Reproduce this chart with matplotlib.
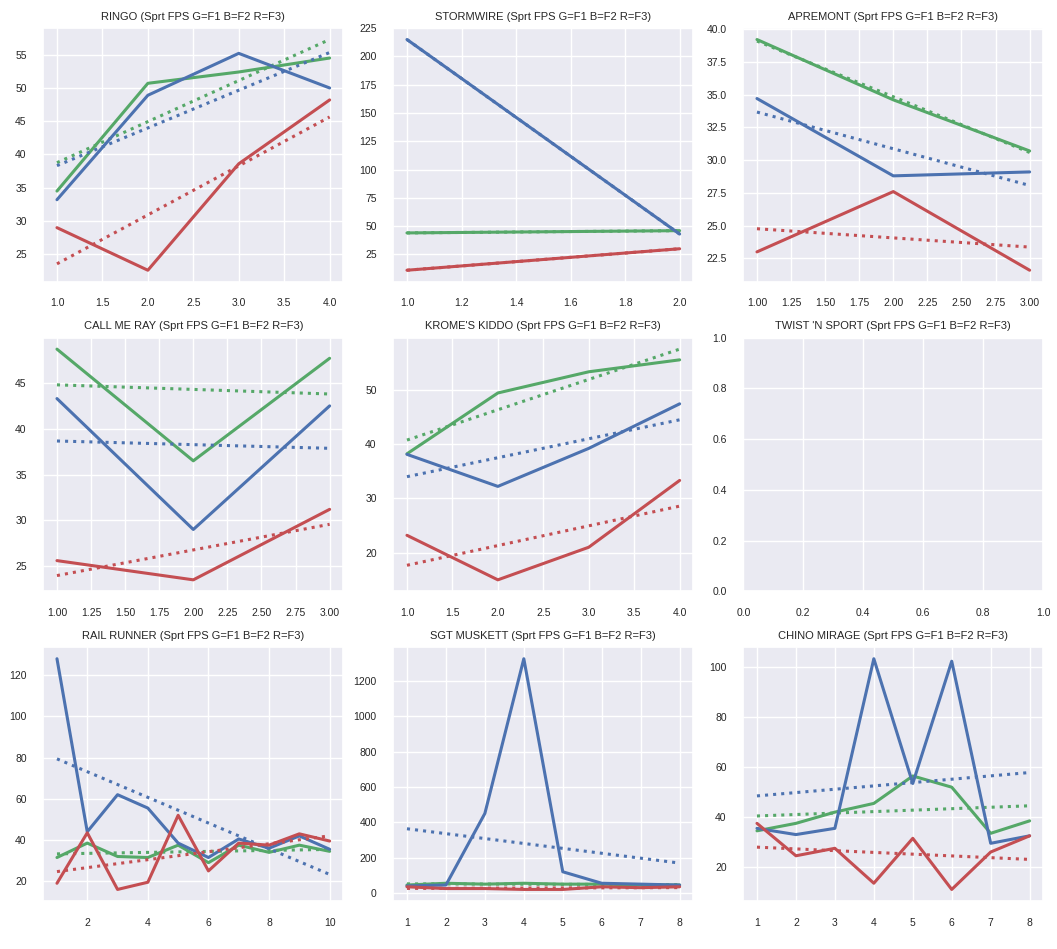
import numpy as np
import matplotlib
matplotlib.use("Agg")
import matplotlib.pyplot as plt
import seaborn as sns

sns.set_theme(style="darkgrid")
plt.rcParams['font.family'] = ['Liberation Sans', 'DejaVu Sans']

SUFFIX = " (Sprt FPS G=F1 B=F2 R=F3)"

# one entry per track: (name, green F1, blue F2, red F3)
ringo_g = [34.5, 50.7, 52.4, 54.5]
ringo_b = [33.2, 48.9, 55.2, 50.0]
ringo_r = [29.0, 22.6, 38.6, 48.2]

stormwire_g = [44.0, 46.0]
stormwire_b = [215.0, 43.0]
stormwire_r = [11.0, 30.0]

apremont_g = [39.2, 34.6, 30.7]
apremont_b = [34.7, 28.8, 29.1]
apremont_r = [23.0, 27.6, 21.6]

callmeray_g = [48.7, 36.5, 47.7]
callmeray_b = [43.3, 29.0, 42.5]
callmeray_r = [25.6, 23.5, 31.2]

krome_g = [38.2, 49.4, 53.3, 55.5]
krome_b = [38.1, 32.2, 39.2, 47.4]
krome_r = [23.2, 15.0, 21.0, 33.3]

railrunner_g = [31.5, 38.5, 32.0, 31.5, 37.5, 29.0, 37.5, 34.0, 37.5, 34.5]
railrunner_b = [128.0, 44.0, 62.0, 55.5, 38.5, 31.5, 40.5, 36.0, 42.0, 35.5]
railrunner_r = [19.0, 43.5, 16.0, 19.5, 52.0, 25.0, 38.5, 37.5, 43.0, 39.5]

muskett_g = [45, 55, 50, 55, 50, 50, 45, 45]
muskett_b = [40, 45, 450, 1325, 120, 55, 50, 45]
muskett_r = [35, 25, 25, 20, 20, 35, 30, 35]

chino_g = [34.5, 37.5, 42.0, 45.5, 56.5, 52.0, 33.5, 38.5]
chino_b = [35.5, 33.0, 35.5, 103.5, 53.5, 102.5, 29.5, 32.5]
chino_r = [37.5, 24.5, 27.5, 13.5, 31.5, 11.0, 26.0, 32.5]

tracks = [
    ("RINGO", ringo_g, ringo_b, ringo_r),
    ("STORMWIRE", stormwire_g, stormwire_b, stormwire_r),
    ("APREMONT", apremont_g, apremont_b, apremont_r),
    ("CALL ME RAY", callmeray_g, callmeray_b, callmeray_r),
    ("KROME'S KIDDO", krome_g, krome_b, krome_r),
    ("TWIST 'N SPORT", [], [], []),
    ("RAIL RUNNER", railrunner_g, railrunner_b, railrunner_r),
    ("SGT MUSKETT", muskett_g, muskett_b, muskett_r),
    ("CHINO MIRAGE", chino_g, chino_b, chino_r),
]

colors = ["#55a868", "#4c72b0", "#c44e52"]


def plot_track(ax, name, series):
    for vals, c in zip(series, colors):
        if len(vals) == 0:
            continue
        x = np.arange(1, len(vals) + 1)
        ax.plot(x, vals, color=c, lw=2.2)
        # linear trend, dotted
        k, b = np.polyfit(x, vals, 1)
        ax.plot(x, k * x + b, color=c, lw=2.2, ls=":")
    ax.set_title(name + SUFFIX, fontsize=8, color="#262626")
    ax.tick_params(labelsize=7.5, colors="#262626", pad=6)


fig, axes = plt.subplots(3, 3, figsize=(10.57, 9.49), dpi=100)
for ax, (name, g, b, r) in zip(axes.flat, tracks):
    plot_track(ax, name, [g, b, r])

plt.subplots_adjust(left=0.041, right=0.987, top=0.9705, bottom=0.0506,
                    wspace=0.167, hspace=0.22)
plt.savefig("out.png")
